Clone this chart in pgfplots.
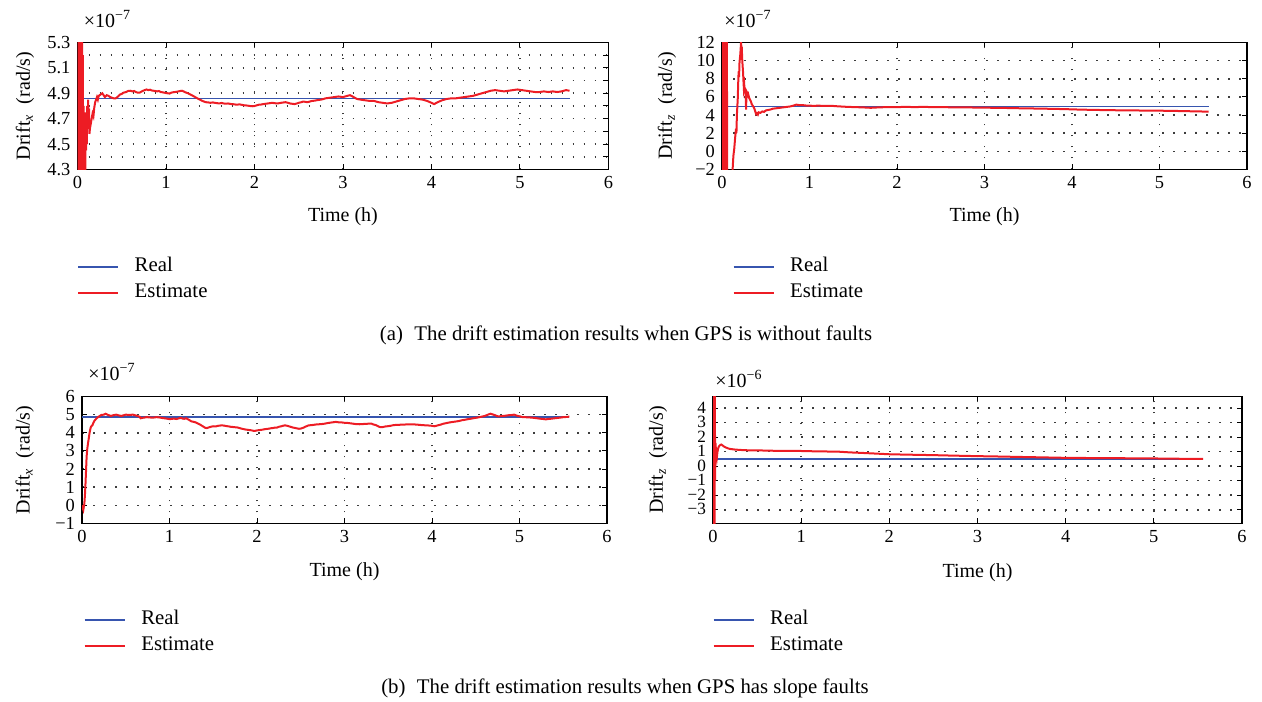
\documentclass[border=0pt]{standalone}
\usepackage{fontspec}
\setmainfont{Liberation Serif}
\usepackage{pgfplots}
\pgfplotsset{compat=1.18}

\definecolor{realblue}{RGB}{55,85,175}
\definecolor{estred}{RGB}{237,28,36}
\definecolor{griddot}{RGB}{60,60,60}

\pgfplotsset{
  drift/.style={
    scale only axis, anchor=south west, height=63.5pt,
    xmin=0, xmax=6, xtick={0,1,2,3,4,5,6}, xticklabels={0,1,2,3,4,5,6},
    axis line style={line width=0.9pt},
    tick align=inside, major tick length=2.5pt, tick style={black, line width=0.5pt},
    grid=major, major grid style={griddot, line width=0.8pt, dash pattern=on 0.8pt off 4.7pt},
    tick label style={font=\fontsize{9.2}{10}\selectfont},
    yticklabel style={text height=6pt, text depth=0pt, inner ysep=1pt},
    label style={font=\fontsize{10.4}{12}\selectfont},
    every axis y label/.style={rotate=90, anchor=center},
    every axis x label/.style={anchor=center},
    xlabel={Time (h)},
    legend cell align=left,
    legend style={draw=none, fill=none, inner sep=0pt, outer sep=0pt, anchor=north west,
      font=\fontsize{10.4}{12}\selectfont, column sep=8pt, row sep=3pt,
      nodes={inner sep=0pt, text height=7.5pt, text depth=2.5pt}},
    legend image code/.code={\draw[#1, line width=0.6pt] (0pt,0pt) -- (20pt,0pt);},
  }
}

\begin{document}
\begin{tikzpicture}
\path[use as bounding box] (0,0) rectangle (631pt,350.5pt);

% (a) left: Drift x, GPS without faults
\begin{axis}[drift, at={(38.75pt,265.75pt)}, width=265.5pt,
  ymin=4.3, ymax=5.3, ytick={4.3,4.4,4.5,4.6,4.7,4.8,4.9,5.0,5.1,5.2,5.3},
  yticklabels={4.3,,4.5,,4.7,,4.9,,5.1,,5.3},
  ylabel={Drift\textsubscript{\itshape x}\ \ (rad/s)},
  ylabel style={at={(axis description cs:-0.099,0.5)}},
  xlabel style={at={(axis description cs:0.5,-0.37)}},
  legend style={at={(0,-0.689)}}]
\addplot[realblue, line width=0.8pt] coordinates {(0,4.86) (5.56,4.86)};
\addlegendentry{Real}
\addplot[estred, line width=1pt] coordinates {
(0,4.86) (0.004,5.6) (0.008,4.0) (0.012,5.6) (0.016,4.0) (0.02,5.6) (0.024,4.0) (0.028,5.6)
(0.032,4.0) (0.036,5.6) (0.04,4.0) (0.044,5.6) (0.048,4.0) (0.052,5.5) (0.056,4.1) (0.06,5.2)
(0.064,4.45) (0.068,4.8) (0.072,4.3) (0.076,4.7) (0.08,4.2) (0.084,4.65) (0.088,4.25) (0.092,4.75)
(0.096,4.45) (0.1,4.7) (0.105,4.5) (0.11,4.8) (0.115,4.62) (0.12,4.85) (0.125,4.7) (0.13,4.78)
(0.135,4.58) (0.14,4.62) (0.15,4.66) (0.16,4.7) (0.17,4.74) (0.18,4.72) (0.19,4.79) (0.2,4.83)
(0.21,4.85) (0.22,4.87) (0.23,4.85) (0.24,4.88) (0.26,4.89) (0.28,4.9) (0.3,4.88) (0.31,4.87)
(0.33,4.885) (0.35,4.88) (0.37,4.87) (0.39,4.865) (0.41,4.86) (0.43,4.86) (0.45,4.87) (0.48,4.89)
(0.5,4.895) (0.52,4.905) (0.55,4.91) (0.57,4.918) (0.6,4.92) (0.62,4.915) (0.64,4.918) (0.66,4.91)
(0.68,4.905) (0.7,4.905) (0.72,4.912) (0.74,4.92) (0.76,4.925) (0.78,4.93) (0.8,4.925) (0.82,4.928)
(0.84,4.922) (0.86,4.92) (0.88,4.918) (0.9,4.915) (0.92,4.918) (0.94,4.91) (0.96,4.908) (0.98,4.905)
(1.0,4.902) (1.02,4.9) (1.04,4.898) (1.06,4.905) (1.08,4.908) (1.1,4.91) (1.12,4.912) (1.14,4.915)
(1.16,4.918) (1.18,4.92) (1.2,4.915) (1.21,4.91) (1.23,4.905) (1.25,4.9) (1.27,4.892) (1.29,4.885)
(1.31,4.878) (1.33,4.87) (1.35,4.862) (1.37,4.855) (1.39,4.848) (1.41,4.84) (1.43,4.835) (1.45,4.83)
(1.48,4.828) (1.5,4.825) (1.53,4.828) (1.55,4.825) (1.58,4.822) (1.6,4.82) (1.63,4.824) (1.65,4.82)
(1.68,4.818) (1.7,4.82) (1.73,4.816) (1.75,4.815) (1.78,4.812) (1.8,4.81) (1.83,4.813) (1.85,4.81)
(1.88,4.806) (1.9,4.805) (1.93,4.802) (1.95,4.8) (1.98,4.798) (2.0,4.8) (2.03,4.806) (2.05,4.81)
(2.08,4.812) (2.1,4.815) (2.13,4.818) (2.15,4.82) (2.18,4.823) (2.2,4.825) (2.23,4.822) (2.25,4.82)
(2.28,4.822) (2.3,4.825) (2.33,4.828) (2.35,4.83) (2.38,4.825) (2.4,4.82) (2.43,4.817) (2.45,4.815)
(2.48,4.82) (2.5,4.825) (2.53,4.83) (2.55,4.835) (2.58,4.832) (2.6,4.83) (2.63,4.836) (2.65,4.84)
(2.68,4.842) (2.7,4.845) (2.73,4.848) (2.75,4.85) (2.78,4.855) (2.8,4.86) (2.83,4.863) (2.85,4.865)
(2.88,4.868) (2.9,4.87) (2.93,4.873) (2.95,4.875) (2.98,4.872) (3.0,4.87) (3.03,4.876) (3.05,4.88)
(3.08,4.885) (3.1,4.878) (3.12,4.87) (3.14,4.862) (3.16,4.855) (3.2,4.85) (3.25,4.845) (3.3,4.84)
(3.35,4.84) (3.4,4.83) (3.45,4.825) (3.5,4.82) (3.55,4.825) (3.6,4.835) (3.65,4.845) (3.7,4.855)
(3.75,4.86) (3.8,4.86) (3.85,4.855) (3.9,4.85) (3.95,4.84) (4.0,4.825) (4.03,4.815) (4.07,4.83)
(4.12,4.845) (4.17,4.855) (4.22,4.86) (4.27,4.86) (4.32,4.865) (4.37,4.87) (4.42,4.875) (4.47,4.88)
(4.52,4.89) (4.57,4.9) (4.62,4.91) (4.67,4.92) (4.72,4.925) (4.77,4.92) (4.82,4.915) (4.87,4.92)
(4.92,4.925) (4.97,4.93) (5.02,4.925) (5.07,4.92) (5.12,4.915) (5.17,4.91) (5.22,4.91) (5.27,4.915)
(5.32,4.91) (5.37,4.915) (5.42,4.91) (5.47,4.915) (5.52,4.925) (5.56,4.92)};
\addlegendentry{Estimate}
\end{axis}
\node[anchor=west, inner sep=1pt, font=\fontsize{10}{12}\selectfont] at (40.75pt,341pt) {×10\textsuperscript{−7}};

% (a) right: Drift z, GPS without faults
\begin{axis}[drift, at={(361pt,265.75pt)}, width=262.5pt,
  ymin=-2, ymax=12, ytick={-2,0,2,4,6,8,10,12},
  yticklabels={−2,0,2,4,6,8,10,12},
  ylabel={Drift\textsubscript{\itshape z}\ \ (rad/s)},
  ylabel style={at={(axis description cs:-0.105,0.5)}},
  xlabel style={at={(axis description cs:0.5,-0.37)}},
  legend style={at={(0.021,-0.689)}}]
\addplot[realblue, line width=0.8pt] coordinates {(0,4.95) (5.56,4.95)};
\addlegendentry{Real}
\addplot[estred, line width=1pt] coordinates {
(0,5) (0.005,13) (0.01,-3) (0.015,13) (0.02,-3) (0.025,13) (0.03,-3) (0.035,13) (0.04,-3)
(0.045,13) (0.05,-3) (0.055,13) (0.06,-3) (0.09,-3) (0.12,-2.2) (0.13,-0.5) (0.14,0.3)
(0.15,1.5) (0.16,2.5) (0.165,2.0) (0.17,4.0) (0.18,5.8) (0.185,7.5) (0.19,8.8) (0.195,8.2)
(0.2,9.8) (0.205,10.3) (0.21,10.8) (0.215,11.6) (0.218,12.1) (0.222,11.2) (0.226,11.5)
(0.23,10.3) (0.235,9.5) (0.24,8.8) (0.245,7.8) (0.25,6.9) (0.255,7.2) (0.26,6.4) (0.265,6.9)
(0.27,6.2) (0.275,4.6) (0.28,6.6) (0.285,6.5) (0.29,6.1) (0.3,6.3) (0.31,5.9) (0.32,5.7)
(0.33,5.5) (0.34,5.2) (0.35,5.05) (0.36,4.9) (0.37,4.7) (0.38,4.4) (0.39,4.1) (0.4,4.2)
(0.41,4.05) (0.42,4.3) (0.44,4.25) (0.46,4.4) (0.48,4.35) (0.5,4.5) (0.52,4.55) (0.55,4.6)
(0.58,4.7) (0.62,4.75) (0.66,4.8) (0.7,4.85) (0.74,4.9) (0.78,4.95) (0.82,5.05) (0.85,5.15)
(0.88,5.1) (0.92,5.1) (0.96,5.05) (1.0,5.05) (1.05,5.0) (1.1,5.05) (1.15,5.0) (1.2,5.0)
(1.25,5.02) (1.3,4.98) (1.35,4.95) (1.4,4.92) (1.45,4.9) (1.5,4.88) (1.6,4.85) (1.7,4.8)
(1.8,4.85) (1.9,4.88) (2.0,4.88) (2.1,4.9) (2.2,4.88) (2.3,4.9) (2.4,4.88) (2.5,4.87)
(2.6,4.86) (2.7,4.85) (2.8,4.84) (2.9,4.83) (3.0,4.82) (3.1,4.8) (3.2,4.79) (3.3,4.77)
(3.4,4.75) (3.5,4.73) (3.6,4.72) (3.7,4.7) (3.8,4.68) (3.9,4.66) (4.0,4.63) (4.1,4.6)
(4.2,4.58) (4.3,4.56) (4.4,4.55) (4.5,4.53) (4.6,4.52) (4.7,4.51) (4.8,4.5) (4.9,4.49)
(5.0,4.48) (5.1,4.47) (5.2,4.45) (5.3,4.43) (5.4,4.41) (5.5,4.39) (5.56,4.38)};
\addlegendentry{Estimate}
\end{axis}
\node[anchor=west, inner sep=1pt, font=\fontsize{10}{12}\selectfont] at (361pt,341pt) {×10\textsuperscript{−7}};

\node[font=\fontsize{10.4}{12}\selectfont] at (313pt,183pt)
  {(a)\hspace{0.55em}The drift estimation results when GPS is without faults};

% (b) left: Drift x, GPS slope faults
\begin{axis}[drift, at={(41pt,88.75pt)}, width=262.5pt,
  ymin=-1, ymax=6, ytick={-1,0,1,2,3,4,5,6},
  yticklabels={−1,0,1,2,3,4,5,6},
  ylabel={Drift\textsubscript{\itshape x}\ \ (rad/s)},
  ylabel style={at={(axis description cs:-0.109,0.5)}},
  xlabel style={at={(axis description cs:0.5,-0.378)}},
  legend style={at={(0.004,-0.681)}}]
\addplot[realblue, line width=0.8pt] coordinates {(0,4.87) (5.56,4.87)};
\addlegendentry{Real}
\addplot[estred, line width=1pt] coordinates {
(0,0.0) (0.008,-0.15) (0.015,-0.25) (0.02,-0.1) (0.027,0.1) (0.034,0.6) (0.04,1.2) (0.047,2.0)
(0.053,2.7) (0.06,3.1) (0.068,3.4) (0.076,3.65) (0.085,3.95) (0.093,4.15) (0.1,4.3) (0.11,4.38)
(0.12,4.42) (0.13,4.55) (0.14,4.65) (0.16,4.76) (0.18,4.85) (0.2,4.92) (0.22,4.98) (0.25,5.0)
(0.27,5.05) (0.3,4.98) (0.33,4.93) (0.36,4.97) (0.39,5.0) (0.42,4.96) (0.45,4.93) (0.48,4.97)
(0.5,5.0) (0.54,4.98) (0.58,5.0) (0.62,4.95) (0.66,4.88) (0.67,4.8) (0.7,4.83) (0.74,4.86)
(0.77,4.85) (0.8,4.83) (0.82,4.84) (0.85,4.86) (0.88,4.85) (0.91,4.82) (0.94,4.8) (0.97,4.78)
(1.0,4.75) (1.03,4.77) (1.05,4.78) (1.08,4.76) (1.11,4.8) (1.13,4.82) (1.15,4.78) (1.17,4.77)
(1.19,4.8) (1.22,4.72) (1.25,4.63) (1.28,4.6) (1.3,4.57) (1.33,4.5) (1.35,4.45) (1.38,4.36)
(1.41,4.27) (1.43,4.26) (1.45,4.3) (1.48,4.34) (1.5,4.36) (1.53,4.35) (1.55,4.38) (1.58,4.4)
(1.6,4.41) (1.63,4.39) (1.65,4.37) (1.68,4.35) (1.7,4.33) (1.74,4.31) (1.78,4.29) (1.8,4.26)
(1.83,4.22) (1.85,4.2) (1.87,4.18) (1.9,4.16) (1.93,4.14) (1.95,4.12) (1.97,4.1) (2.0,4.13)
(2.03,4.15) (2.06,4.17) (2.09,4.2) (2.11,4.21) (2.14,4.23) (2.16,4.25) (2.18,4.26) (2.2,4.28)
(2.23,4.29) (2.25,4.33) (2.28,4.36) (2.3,4.39) (2.32,4.41) (2.35,4.38) (2.37,4.35) (2.39,4.32)
(2.41,4.29) (2.44,4.26) (2.46,4.24) (2.48,4.22) (2.5,4.23) (2.53,4.28) (2.55,4.33) (2.57,4.37)
(2.59,4.41) (2.62,4.42) (2.65,4.44) (2.68,4.46) (2.71,4.47) (2.74,4.48) (2.77,4.5) (2.8,4.53)
(2.84,4.56) (2.87,4.58) (2.9,4.6) (2.93,4.58) (2.97,4.57) (3.0,4.55) (3.04,4.54) (3.07,4.52)
(3.1,4.5) (3.13,4.48) (3.17,4.47) (3.2,4.48) (3.24,4.49) (3.27,4.5) (3.31,4.5) (3.33,4.46)
(3.36,4.42) (3.38,4.37) (3.4,4.32) (3.43,4.31) (3.45,4.33) (3.47,4.35) (3.49,4.36) (3.52,4.38)
(3.54,4.4) (3.56,4.42) (3.58,4.43) (3.62,4.44) (3.67,4.45) (3.71,4.46) (3.76,4.47) (3.8,4.46)
(3.85,4.44) (3.89,4.42) (3.94,4.41) (3.99,4.39) (4.03,4.36) (4.06,4.4) (4.1,4.45) (4.13,4.5)
(4.17,4.54) (4.2,4.57) (4.24,4.6) (4.27,4.62) (4.31,4.65) (4.34,4.69) (4.38,4.72) (4.41,4.75)
(4.45,4.78) (4.48,4.81) (4.52,4.84) (4.55,4.87) (4.58,4.9) (4.61,4.94) (4.63,4.98) (4.65,5.02)
(4.67,5.05) (4.7,5.0) (4.72,4.97) (4.74,4.93) (4.76,4.9) (4.79,4.92) (4.82,4.93) (4.85,4.95)
(4.88,4.97) (4.91,4.98) (4.94,5.0) (4.96,4.96) (4.98,4.93) (5.01,4.9) (5.03,4.87) (5.06,4.86)
(5.1,4.85) (5.13,4.84) (5.17,4.82) (5.2,4.8) (5.23,4.78) (5.27,4.76) (5.3,4.74) (5.33,4.76)
(5.37,4.78) (5.4,4.8) (5.44,4.82) (5.47,4.84) (5.5,4.86) (5.53,4.87) (5.57,4.89)};
\addlegendentry{Estimate}
\end{axis}
\node[anchor=west, inner sep=1pt, font=\fontsize{10}{12}\selectfont] at (43pt,164.5pt) {×10\textsuperscript{−7}};

% (b) right: Drift z, GPS slope faults
\begin{axis}[drift, at={(356.5pt,88.75pt)}, width=264.5pt,
  ymin=-3.95, ymax=4.8, ytick={-3,-2,-1,0,1,2,3,4},
  yticklabels={−3,−2,−1,0,1,2,3,4},
  yticklabel style={font=\fontsize{8.6}{9}\selectfont, text height=5pt, text depth=0pt, inner ysep=0.3pt},
  ylabel={Drift\textsubscript{\itshape z}\ \ (rad/s)},
  ylabel style={at={(axis description cs:-0.104,0.5)}},
  xlabel style={at={(axis description cs:0.5,-0.385)}},
  legend style={at={(0,-0.681)}}]
\addplot[realblue, line width=0.8pt] coordinates {(0,0.48) (5.56,0.48)};
\addlegendentry{Real}
\addplot[estred, line width=1pt] coordinates {
(0,0.5) (0.003,5.5) (0.006,-4.5) (0.009,5.5) (0.012,-4.5) (0.015,5.5) (0.018,-4.5) (0.021,5.5)
(0.024,-1.0) (0.028,1.6) (0.033,0.9) (0.038,1.0) (0.045,0.67) (0.05,0.95) (0.057,1.2)
(0.066,1.35) (0.076,1.42) (0.085,1.47) (0.095,1.49) (0.11,1.42) (0.13,1.33) (0.16,1.25)
(0.19,1.19) (0.24,1.15) (0.3,1.12) (0.37,1.1) (0.45,1.08) (0.52,1.09) (0.6,1.07) (0.7,1.06)
(0.83,1.05) (0.97,1.05) (1.1,1.03) (1.2,1.02) (1.3,1.01) (1.42,1.0) (1.55,0.95) (1.7,0.91)
(1.87,0.86) (2.0,0.82) (2.15,0.8) (2.32,0.78) (2.5,0.76) (2.7,0.73) (2.85,0.71) (3.0,0.69)
(3.2,0.67) (3.44,0.64) (3.7,0.61) (4.03,0.57) (4.3,0.56) (4.57,0.55) (4.8,0.54) (5.02,0.53)
(5.3,0.51) (5.56,0.5)};
\addlegendentry{Estimate}
\end{axis}
\node[anchor=west, inner sep=1pt, font=\fontsize{10}{12}\selectfont] at (356.5pt,161pt) {×10\textsuperscript{−6}};

\node[font=\fontsize{10.4}{12}\selectfont] at (312.5pt,6.5pt)
  {(b)\hspace{0.55em}The drift estimation results when GPS has slope faults};
\end{tikzpicture}
\end{document}
